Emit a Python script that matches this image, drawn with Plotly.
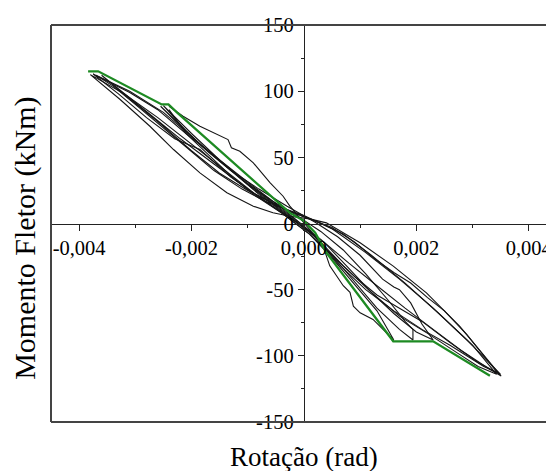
import plotly.graph_objects as go

# ------------------------------------------------------------
#                          DATA
# ------------------------------------------------------------
# envelope (green)
env_x = [-0.00384, -0.00366, -0.00253, -0.00241, -0.00226, -0.00025, 0.0, 0.0002, 0.0004, 0.00159, 0.0023, 0.00331]
env_y = [115, 115, 90, 90, 84, 8, 2, -7, -22, -89, -89, -115]

# hysteresis loops (black)
loop_a_x = [-0.0038, -0.00327, -0.00274, -0.00232, -0.00185, -0.00137, -0.0009, -0.00055, -0.00025, 0.0001, 0.0004,
            0.001, 0.00159, 0.00218, 0.00277, 0.00351,
            0.0033, 0.0028, 0.0023, 0.0018, 0.0013, 0.0008, 0.0003, -0.0002, -0.0008, -0.0014, -0.002, -0.0026, -0.0032, -0.0038]
loop_a_y = [112.5, 93.7, 73.5, 55.9, 38.3, 23.2, 13.1, 8.1, 5.5, 3.5, 0.5,
            -14.6, -32.2, -52.4, -77.6, -115.3,
            -110, -96, -80, -64, -47, -30, -12, 3, 20, 40, 60, 80, 98, 112.5]

loop_b_x = [-0.00375, -0.0033, -0.0028, -0.0023, -0.00185, -0.0013, -0.0009, -0.0003, 0.0002, 0.0007, 0.0012, 0.0018,
            0.0024, 0.003, 0.00343,
            0.0031, 0.0027, 0.0022, 0.0017, 0.0012, 0.0007, 0.0003, 0.0, -0.0004, -0.0009, -0.0015, -0.0021, -0.0026,
            -0.0031, -0.00375]
loop_b_y = [113, 98, 80, 64, 55.9, 35, 23, 10, 2, -8, -24, -45,
            -68, -92, -114,
            -108, -97, -83, -70, -52, -32, -14, -2, 12, 28, 48, 68, 86,
            99, 113]

loop_c_x = [-0.0037, -0.0034, -0.003, -0.0026, -0.0021, -0.0016, -0.0011, -0.0006, 0.0, 0.0005, 0.0011, 0.0017,
            0.0023, 0.0029, 0.0035,
            0.0032, 0.0026, 0.0021, 0.0016, 0.0011, 0.0006, 0.0002, -0.0003, -0.0008, -0.0013, -0.0019, -0.0025,
            -0.0031, -0.0037]
loop_c_y = [112, 104, 90, 76, 58, 40, 26, 15, 6, -4, -22, -42,
            -64, -88, -114,
            -108, -92, -80, -66, -50, -30, -10, 6, 22, 40, 62, 84,
            100, 112]

loop_d_x = [-0.0024, -0.00215, -0.00185, -0.00149, -0.00135, -0.00129, -0.00114, -0.0009, -0.0006, -0.00037, -0.00025,
            0.0001, 0.00034, 0.00046, 0.0007, 0.00082, 0.00088, 0.001, 0.00123, 0.00147, 0.0016,
            0.0013, 0.0009, 0.0005, 0.0001, -0.0004, -0.0009, -0.0013, -0.0017, -0.0021, -0.0024]
loop_d_y = [88.6, 81, 73.5, 66, 63.4, 57.2, 54.6, 45.8, 30.7, 20.6, 13.1,
            -4.5, -17, -32, -47, -52, -62.5, -67.5, -72.5, -82.6, -88,
            -66, -46, -26, -8, 8, 22, 36, 52, 68, 86]

loop_e_x = [-0.00255, -0.0022, -0.0018, -0.0014, -0.001, -0.0006, -0.0002, 0.0003, 0.0007, 0.0011, 0.0015, 0.0018,
            0.00194, 0.00194,
            0.0017, 0.0013, 0.0009, 0.0005, 0.0001, -0.0004, -0.0009, -0.0014, -0.0019, -0.0023, -0.00255]
loop_e_y = [88.6, 74, 58, 44, 30, 18, 8, -6, -20, -38, -58, -74,
            -80, -88,
            -80, -64, -44, -24, -6, 10, 26, 44, 62, 78, 88.6]

loop_f_x = [-0.0025, -0.0021, -0.0017, -0.0013, -0.0008, -0.0003, 0.0002, 0.0006, 0.001, 0.0014, 0.0016, 0.0017,
            0.0019, 0.0021, 0.0023,
            0.002, 0.0016, 0.0012, 0.0008, 0.0004, 0.0, -0.0005, -0.001, -0.0015, -0.002, -0.0025]
loop_f_y = [89, 70, 54, 40, 26, 13, 1, -10, -24, -42, -48, -50,
            -60, -76, -88,
            -82, -68, -52, -34, -16, -2, 14, 30, 48, 68, 89]

loop_g_x = [-0.0036, -0.0031, -0.0026, -0.002, -0.0015, -0.001, -0.0005, 0.0, 0.0005, 0.0009, 0.0013, 0.0016, 0.0019,
            0.0022, 0.0025, 0.0029, 0.00345,
            0.0031, 0.0026, 0.0021, 0.0017, 0.0013, 0.0009, 0.0005, 0.0001, -0.0004, -0.001, -0.0016, -0.0022, -0.0029,
            -0.0036]
loop_g_y = [112, 94, 77, 55, 38, 25, 14, 5, -3, -14, -28, -37, -45,
            -56, -66, -84, -113,
            -105, -90, -74, -64, -54, -40, -24, -8, 8, 26, 45, 64, 88,
            112]

loops = [(loop_a_x, loop_a_y), (loop_b_x, loop_b_y), (loop_c_x, loop_c_y),
         (loop_d_x, loop_d_y), (loop_e_x, loop_e_y), (loop_f_x, loop_f_y),
         (loop_g_x, loop_g_y)]

x_ticks = [-0.004, -0.002, 0.0, 0.002, 0.004]
x_ticktext = ['-0,004', '-0,002', '0,000', '0,002', '0,004']
x_minor = [-0.003, -0.001, 0.001, 0.003]
y_ticks = [-150, -100, -50, 0, 50, 100, 150]
y_ticktext = ['-150', '-100', '-50', '0', '50', '100', '150']
y_minor = [-125, -75, -25, 25, 75, 125]

# ------------------------------------------------------------
#                         PLOT
# ------------------------------------------------------------
x_range = [-0.0045, 0.00445]
serif = 'Liberation Serif'

fig = go.Figure()

for lx, ly in loops:
    fig.add_trace(go.Scatter(x=lx, y=ly, mode='lines',
                             line=dict(color='#151515', width=1.1), showlegend=False))

fig.add_trace(go.Scatter(x=env_x, y=env_y, mode='lines',
                         line=dict(color='#1d8a22', width=2.3), showlegend=False))

axis_common = dict(showline=True, linecolor='#222', linewidth=1.3,
                   ticks='outside', ticklen=6, tickwidth=1.3, tickcolor='#222',
                   tickfont=dict(family=serif, size=20.5, color='black'),
                   showgrid=False, zeroline=False, anchor='free', automargin=False)

fig.update_xaxes(range=x_range, position=0.5, tickmode='array',
                 tickvals=x_ticks, ticktext=x_ticktext,
                 minor=dict(tickmode='array', tickvals=x_minor, ticks='outside',
                            ticklen=3, tickcolor='#222', showgrid=False),
                 **axis_common)
fig.update_yaxes(range=[-150, 150], position=-x_range[0] / (x_range[1] - x_range[0]),
                 tickmode='array', tickvals=y_ticks, ticktext=y_ticktext,
                 minor=dict(tickmode='array', tickvals=y_minor, ticks='outside',
                            ticklen=3, tickcolor='#222', showgrid=False),
                 **axis_common)

# frame (left, top, bottom)
for x0, y0, x1, y1 in [(0, 0, 0, 1), (0, 1, 1, 1), (0, 0, 1, 0)]:
    fig.add_shape(type='line', xref='paper', yref='paper', x0=x0, y0=y0, x1=x1, y1=y1,
                  line=dict(color='#444', width=2))

fig.add_annotation(text='Rotação (rad)', xref='paper', yref='paper', x=0.503, y=-0.088,
                   xanchor='center', yanchor='middle',
                   showarrow=False, font=dict(family=serif, size=27, color='black'))
fig.add_annotation(text='Momento Fletor (kNm)', xref='paper', yref='paper', x=-0.052, y=0.4635,
                   xanchor='center', yanchor='middle', textangle=-90,
                   showarrow=False, font=dict(family=serif, size=30, color='black'))

# page body has an 8px margin, so the figure is sized to sit inside the window
fig.update_layout(width=546, height=463,
                  margin=dict(l=43, r=0, t=17, b=49),
                  plot_bgcolor='white', paper_bgcolor='white')

fig.write_html("out.html")
